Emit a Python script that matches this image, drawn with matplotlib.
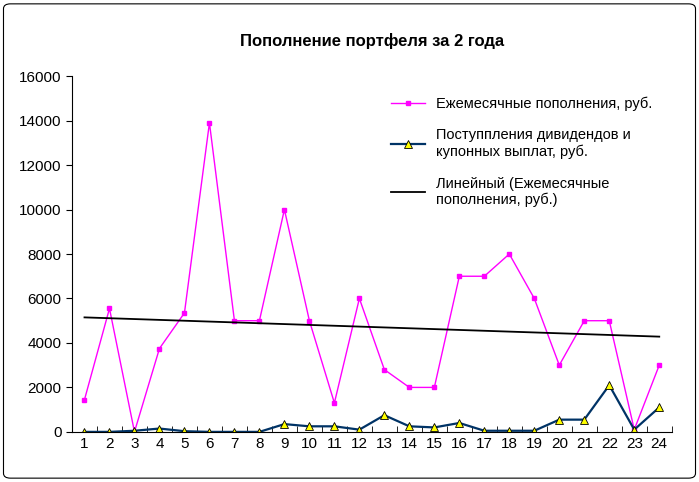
import matplotlib
matplotlib.use("Agg")
import matplotlib.pyplot as plt
import numpy as np
from matplotlib.patches import FancyBboxPatch

plt.rcParams['font.family'] = 'Liberation Sans'

months = list(range(1, 25))
monthly = [1450, 5550, 0, 3750, 5350, 13900, 5000, 5000, 10000, 5000, 1300, 6000,
           2800, 2000, 2000, 7000, 7000, 8000, 6000, 3000, 5000, 5000, 100, 3000]
dividends = [0, 0, 50, 150, 30, 0, 0, 0, 350, 250, 250, 100,
             750, 250, 200, 400, 50, 50, 50, 550, 550, 2100, 100, 1100]

fig = plt.figure(figsize=(6.99, 4.82), dpi=100)
fig.patches.append(FancyBboxPatch((0.005, 0.008), 0.99, 0.984, boxstyle="round,pad=0,rounding_size=0.01",
                                  transform=fig.transFigure, fill=False, edgecolor='black', lw=0.8))
ax = fig.add_axes([0.103, 0.104, 0.858, 0.738])
x = np.array(months)
ax.plot(x, monthly, color='#FF00FF', lw=1, marker='s', ms=3, label='Ежемесячные пополнения, руб.')
ax.plot(x, dividends, color='#003366', lw=1.6, marker='^', ms=6, mfc='yellow', mec='black', mew=0.6,
        label='Поступпления дивидендов и\nкупонных выплат, руб.')
k, b = np.polyfit(x, monthly, 1)
ax.plot(x, k * x + b, color='black', lw=1.3, label='Линейный (Ежемесячные\nпополнения, руб.)')

ax.set_xlim(0.5, 24.5)
ax.set_ylim(0, 16000)
ax.set_yticks(range(0, 16001, 2000))
ax.set_xticks(months)
ax.set_xticks(np.arange(0.5, 25, 1), minor=True)
ax.tick_params(axis='x', which='major', length=0, labelsize=11)
ax.tick_params(axis='x', which='minor', length=4, direction='in')
ax.tick_params(axis='y', labelsize=11, length=4)
for s in ['top', 'right']:
    ax.spines[s].set_visible(False)
ax.set_title('Пополнение портфеля за 2 года', fontsize=12, fontweight='bold', pad=22)
ax.legend(loc='upper left', bbox_to_anchor=(0.51, 0.98), frameon=False, fontsize=10.5,
          labelspacing=1.2, handlelength=2.3)
fig.savefig('out.png', dpi=100)
